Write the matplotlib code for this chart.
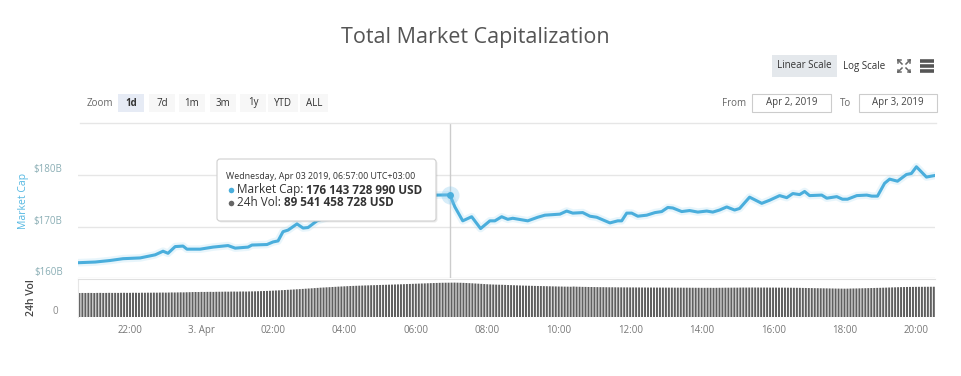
import matplotlib
matplotlib.use('Agg')
import matplotlib.pyplot as plt
from matplotlib.patches import Rectangle, FancyBboxPatch
import numpy as np

plt.rcParams['font.family'] = ['Open Sans', 'DejaVu Sans']

# ---------------- data ----------------
title = "Total Market Capitalization"

# hours relative to 3 Apr 2019 00:00 (negative = 2 Apr)
cap_hours = [-3.45, -2.98, -2.56, -2.20, -1.72, -1.30, -1.08, -0.94, -0.74, -0.52,
             -0.41, -0.04, 0.32, 0.74, 0.94, 1.30, 1.41, 1.83, 2.00, 2.14,
             2.28, 2.42, 2.67, 2.84, 2.98, 3.23, 3.59, 4.01, 4.43, 4.85,
             5.27, 5.69, 6.11, 6.58, 6.95, 7.09, 7.31, 7.56, 7.81, 8.07,
             8.21, 8.40, 8.57, 8.71, 9.13, 9.41, 9.61, 10.03, 10.22, 10.39,
             10.67, 10.87, 11.06, 11.43, 11.65, 11.76, 11.90, 12.04, 12.21, 12.46,
             12.69, 12.88, 13.05, 13.19, 13.44, 13.66, 13.89, 14.14, 14.31, 14.50,
             14.70, 14.92, 15.06, 15.34, 15.68, 15.90, 16.18, 16.38, 16.55, 16.74,
             16.88, 17.02, 17.36, 17.50, 17.78, 17.94, 18.08, 18.34, 18.62, 18.76,
             18.92, 19.12, 19.26, 19.48, 19.73, 19.87, 20.01, 20.29, 20.52]
cap_values = [162.97, 163.1, 163.4, 163.75, 163.9, 164.5, 165.2, 164.8, 166.1, 166.2,
              165.6, 165.6, 166.0, 166.3, 165.8, 166.0, 166.4, 166.5, 167.0, 167.2,
              169.0, 169.3, 170.5, 169.7, 169.8, 171.1, 171.9, 172.6, 173.3, 174.0,
              174.6, 175.2, 175.6, 176.1, 176.14, 173.8, 171.1, 171.9, 169.6, 171.1,
              171.1, 171.9, 171.4, 171.6, 171.1, 171.8, 172.2, 172.4, 173.0, 172.6,
              172.7, 172.0, 171.8, 170.7, 171.1, 171.1, 172.6, 172.6, 172.0, 172.2,
              172.7, 172.9, 173.7, 173.6, 172.9, 173.1, 172.8, 173.0, 172.8, 173.2,
              173.8, 173.2, 173.5, 175.7, 174.5, 175.1, 176.0, 175.6, 176.4, 176.2,
              176.8, 176.0, 176.1, 175.5, 175.8, 175.3, 175.3, 176.0, 176.1, 175.9,
              175.9, 178.4, 179.2, 178.8, 180.1, 180.3, 181.6, 179.6, 179.9]

vol_start_hour = -3.42
vol_step_hours = 5 / 60
vol_values = [
    62.6, 62.8, 62.7, 62.9, 62.8, 62.6, 62.9, 63.0, 62.8, 62.9, 63.1, 62.9,
    63.0, 62.9, 63.1, 63.2, 63.0, 63.1, 63.3, 63.2, 63.1, 63.4, 63.3, 63.5,
    63.4, 63.6, 63.5, 63.7, 63.8, 63.6, 63.9, 64.1, 64.0, 64.2, 64.4, 64.3,
    64.6, 64.8, 65.1, 65.3, 65.2, 65.5, 65.4, 65.6, 65.7, 65.5, 65.8, 65.9,
    66.0, 66.2, 66.1, 66.3, 66.4, 66.2, 66.5, 66.6, 66.4, 66.7, 66.9, 67.0,
    67.3, 67.6, 67.9, 68.1, 68.4, 68.8, 69.2, 69.6, 70.1, 70.5, 71.0, 71.4,
    71.9, 72.4, 72.8, 73.3, 73.9, 74.4, 74.9, 75.5, 76.0, 76.6, 77.0, 77.5,
    77.9, 78.4, 78.8, 79.3, 79.7, 80.1, 80.5, 80.9, 81.2, 81.5, 81.8, 82.1,
    82.4, 82.6, 82.9, 83.1, 83.4, 83.6, 83.9, 84.1, 84.4, 84.6, 84.9, 85.1,
    85.4, 85.7, 86.0, 86.3, 86.6, 86.9, 87.2, 87.5, 87.8, 88.1, 88.4, 88.7,
    88.9, 89.2, 89.4, 89.5, 89.6, 89.7, 89.8, 89.6, 89.4, 89.1, 88.8, 88.4,
    88.0, 87.5, 87.0, 86.5, 86.0, 85.5, 85.1, 84.8, 84.5, 84.3, 84.1, 83.8,
    83.5, 83.2, 82.9, 82.6, 82.3, 82.0, 81.8, 81.6, 81.4, 81.2, 81.0, 80.8,
    80.6, 80.4, 80.2, 80.0, 79.8, 79.6, 79.5, 79.3, 79.2, 79.0, 79.5, 79.1,
    78.9, 78.7, 78.6, 78.4, 78.3, 78.1, 78.0, 77.9, 77.8, 77.7, 77.6, 77.6,
    77.5, 77.4, 77.4, 77.3, 77.3, 77.2, 77.2, 77.1, 77.1, 77.0, 77.0, 76.9,
    76.9, 76.9, 76.8, 76.8, 76.8, 76.7, 76.7, 76.7, 76.6, 76.6, 76.6, 76.5,
    76.5, 76.4, 76.4, 76.3, 76.3, 76.2, 76.2, 76.3, 76.2, 76.1, 76.2, 76.3,
    76.4, 76.5, 76.5, 76.6, 76.7, 76.6, 76.8, 76.9, 76.8, 76.9, 77.0, 76.9,
    76.9, 76.8, 76.9, 76.8, 76.7, 76.8, 76.7, 76.6, 76.7, 76.6, 76.5, 76.4,
    76.3, 76.2, 76.1, 75.9, 75.8, 75.6, 75.5, 75.3, 75.2, 75.0, 74.9, 74.8,
    74.6, 74.5, 74.3, 74.2, 74.1, 74.0, 74.1, 74.3, 74.5, 74.6, 74.8, 75.0,
    75.2, 75.4, 75.6, 75.8, 76.0, 76.2, 76.5, 76.7, 77.0, 77.3, 77.5, 77.8,
    78.0, 78.2, 78.4, 78.5, 78.6, 78.7, 78.8, 78.8, 78.9, 78.9, 79.0, 79.0,
]

xtick_hours = [-2, 0, 2, 4, 6, 8, 10, 12, 14, 16, 18, 20]
xtick_labels = ['22:00', '3. Apr', '02:00', '04:00', '06:00', '08:00',
                '10:00', '12:00', '14:00', '16:00', '18:00', '20:00']
ytick_values = [160, 170, 180]
ytick_labels = ['$160B', '$170B', '$180B']
vol_tick_values = [0]
vol_tick_labels = ['0']

zoom_buttons = ['1d', '7d', '1m', '3m', '1y', 'YTD', 'ALL']
scale_buttons = ['Linear Scale', 'Log Scale']
date_from = 'Apr 2, 2019'
date_to = 'Apr 3, 2019'

hover_time = 6.95
hover_cap_text = '176 143 728 990 USD'
hover_vol_text = '89 541 458 728 USD'
hover_cap = 176.14
tooltip_header = 'Wednesday, Apr 03 2019, 06:57:00 UTC+03:00'

# ---------------- figure ----------------
W, H = 961, 376
fig = plt.figure(figsize=(W / 100, H / 100), dpi=100)
fig.patch.set_facecolor('white')

def fx(x):
    return x / W

def fy(y):
    return 1 - y / H

LINE = '#4aaedc'
XL = (-3.46, 20.53)

# main axes
ax = fig.add_axes([fx(78), fy(278), (935 - 78) / W, (278 - 123) / H])
ax.plot(cap_hours, cap_values, color='#b5e1f5', lw=5.5, alpha=0.3,
        solid_joinstyle='round', solid_capstyle='round', zorder=2)
ax.plot(cap_hours, cap_values, color=LINE, lw=2.2, solid_joinstyle='round', zorder=3)
ax.set_xlim(*XL)
ax.set_ylim(160, 190.1)
ax.set_yticks(ytick_values, ytick_labels)
ax.tick_params(axis='y', length=0, pad=11, labelsize=7, labelcolor='#8aaeb5')
for lab in ax.get_yticklabels():
    lab.set_verticalalignment('bottom')
ax.yaxis.grid(True, color='#e6e6e6', lw=1)
ax.set_axisbelow(True)
ax.set_xticks([])
for s in ax.spines.values():
    s.set_visible(False)
ax.axvline(hover_time, color='#cccccc', lw=1, zorder=1)
ax.plot([hover_time], [hover_cap], 'o', ms=13, color='#7cc4ec', alpha=0.3, mew=0, zorder=4)
ax.plot([hover_time], [hover_cap], 'o', ms=5, color=LINE, mew=0, zorder=5)
ax.set_ylabel('Market Cap', color='#55b8e2', fontsize=7.5)
ax.yaxis.set_label_coords(-49 / 857, 0.5)

# volume axes
axv = fig.add_axes([fx(78), fy(317), (935 - 78) / W, (317 - 278.7) / H])
vol_hours = vol_start_hour + np.arange(len(vol_values)) * vol_step_hours
axv.bar(vol_hours, vol_values, width=0.056, color='#5f5f5f', lw=0,
        snap=False, antialiased=True)
axv.set_xlim(*XL)
axv.set_ylim(0, 100)
axv.set_xticks(xtick_hours, xtick_labels)
axv.set_yticks(vol_tick_values, vol_tick_labels)
axv.tick_params(axis='x', length=0, pad=6, labelsize=7, labelcolor='#777777')
axv.tick_params(axis='y', length=0, pad=14, labelsize=7, labelcolor='#888888')
for lab in axv.get_yticklabels():
    lab.set_verticalalignment('bottom')
for k in ['right', 'bottom']:
    axv.spines[k].set_visible(False)
axv.spines['top'].set_color('#e0e0e0')
axv.spines['left'].set_color('#e6e6e6')
axv.set_ylabel('24h Vol', color='#444444', fontsize=7.5, fontweight='semibold')
axv.yaxis.set_label_coords(-41 / 857, 0.5)

# ---------------- UI overlay (pixel coordinates) ----------------
ui = fig.add_axes([0, 0, 1, 1], zorder=10)
ui.set_xlim(0, W)
ui.set_ylim(H, 0)
ui.set_facecolor('none')
ui.axis('off')

ui.text(475, 37, title, ha='center', va='center', fontsize=15.5, color='#555555')

# top separator line
ui.plot([80, 936], [122.7, 122.7], color='#e6e6e6', lw=1)

# scale buttons
ui.add_patch(Rectangle((771.5, 55), 65, 22, facecolor='#e4e8ec', edgecolor='none'))
ui.text(804, 66, scale_buttons[0], ha='center', va='center', fontsize=7, color='#333333')
ui.text(864, 66, scale_buttons[1], ha='center', va='center', fontsize=7, color='#333333')
# fullscreen icon
cx, cy = 904, 66
for sx in (-1, 1):
    for sy in (-1, 1):
        ui.plot([cx + sx * 2, cx + sx * 6], [cy + sy * 2, cy + sy * 6], color='#666666', lw=1.1)
        ui.plot([cx + sx * 6, cx + sx * 3.5], [cy + sy * 6, cy + sy * 6], color='#666666', lw=1.1)
        ui.plot([cx + sx * 6, cx + sx * 6], [cy + sy * 6, cy + sy * 3.5], color='#666666', lw=1.1)
# hamburger
for yy in (61, 66, 71):
    ui.plot([920, 934], [yy, yy], color='#555555', lw=2.6, solid_capstyle='butt')

# zoom buttons
ui.text(100, 103, 'Zoom', ha='center', va='center', fontsize=7, color='#666666')
btn_centers = [131, 162, 192, 223, 253, 283, 314]
btn_widths = [26, 26, 26, 26, 26, 30, 28]
for i, (lab, c, w) in enumerate(zip(zoom_buttons, btn_centers, btn_widths)):
    sel = (i == 0)
    ui.add_patch(Rectangle((c - w / 2, 94), w, 18,
                           facecolor='#e6ebf5' if sel else '#f7f7f7', edgecolor='none'))
    ui.text(c, 103, lab, ha='center', va='center', fontsize=7, color='#333333',
            fontweight='bold' if sel else 'normal')

# date inputs
ui.text(734.5, 103, 'From', ha='center', va='center', fontsize=7, color='#666666')
ui.add_patch(Rectangle((752, 94.3), 79, 18, facecolor='white', edgecolor='#cccccc', lw=0.8))
ui.text(791.5, 103, date_from, ha='center', va='center', fontsize=7, color='#444444')
ui.text(845.7, 103, 'To', ha='center', va='center', fontsize=7, color='#666666')
ui.add_patch(Rectangle((859, 94.3), 77.5, 18, facecolor='white', edgecolor='#cccccc', lw=0.8))
ui.text(897.7, 103, date_to, ha='center', va='center', fontsize=7, color='#444444')

# tooltip
ui.add_patch(FancyBboxPatch((218.5, 160.5), 219, 62, boxstyle='round,pad=0,rounding_size=3',
                            facecolor='#000000', alpha=0.08, edgecolor='none'))
ui.add_patch(FancyBboxPatch((217, 159), 219, 62, boxstyle='round,pad=0,rounding_size=3',
                            facecolor='white', edgecolor='#cfcfcf', lw=0.8))
ui.text(226, 176.5, tooltip_header, ha='left', va='center', fontsize=6.4, color='#333333')
ui.plot([230.5], [190], 'o', ms=4, color=LINE, mew=0)
t1 = ui.text(237, 190, 'Market Cap: ', ha='left', va='center', fontsize=8.5, color='#333333')
ui.annotate(hover_cap_text, xy=(1, 0.5), xycoords=t1, ha='left', va='center',
            fontsize=8.5, fontweight='bold', color='#333333')
ui.plot([230.5], [203], 'o', ms=4, color='#666666', mew=0)
t2 = ui.text(237, 203, '24h Vol: ', ha='left', va='center', fontsize=8.5, color='#333333')
ui.annotate(hover_vol_text, xy=(1, 0.5), xycoords=t2, ha='left', va='center',
            fontsize=8.5, fontweight='bold', color='#333333')

fig.savefig('out.png', dpi=100, facecolor='white')
